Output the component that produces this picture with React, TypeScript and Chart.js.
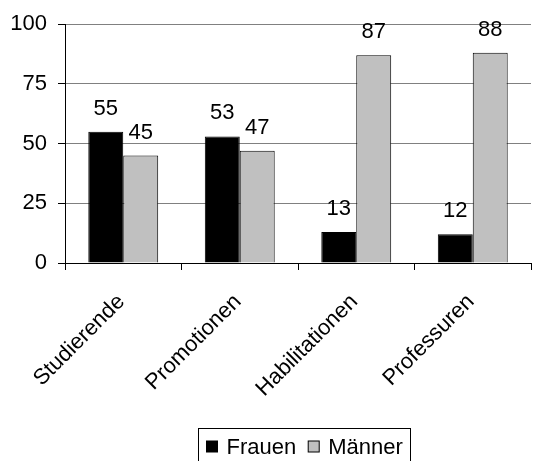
import React, { useEffect, useRef } from "react";
import { Chart, registerables } from "chart.js";

Chart.register(...registerables);

const categories = ["Studierende", "Promotionen", "Habilitationen", "Professuren"];
const frauen = [55, 53, 13, 12];
const maenner = [45, 47, 87, 88];
const seriesNames = ["Frauen", "Männer"];
const yTicks = [0, 25, 50, 75, 100];

const FONT = "'Liberation Sans', Arial, sans-serif";
const FS = 22;

const valueLabels = {
  id: "valueLabels",
  afterDatasetsDraw(chart: any) {
    const ctx = chart.ctx;
    ctx.save();
    ctx.font = `${FS}px ${FONT}`;
    ctx.fillStyle = "#000";
    ctx.textAlign = "center";
    ctx.textBaseline = "alphabetic";
    chart.data.datasets.forEach((ds: any, i: number) => {
      const meta = chart.getDatasetMeta(i);
      meta.data.forEach((el: any, j: number) => {
        ctx.fillText(String(ds.data[j]), el.x, el.y - 17);
      });
    });
    ctx.restore();
  },
};

const boxedLegend = {
  id: "boxedLegend",
  afterDraw(chart: any) {
    const ctx = chart.ctx;
    const area = chart.chartArea;
    ctx.save();
    ctx.font = `${FS}px ${FONT}`;
    const colors = chart.data.datasets.map((d: any) => d.backgroundColor);
    const names = chart.data.datasets.map((d: any) => d.label);
    const sq = 11;
    const padL = 8;
    const gapText = 9;
    const gapItem = 12;
    const padR = 8;
    const widths = names.map((n: string) => ctx.measureText(n).width);
    let total = padL + padR;
    widths.forEach((w: number, i: number) => {
      total += sq + gapText + w + (i < widths.length - 1 ? gapItem : 0);
    });
    const cx = (area.left + area.right) / 2 + 6;
    const left = Math.round(cx - total / 2) + 0.5;
    const top = chart.height - 33 + 0.5;
    ctx.strokeStyle = "#000";
    ctx.lineWidth = 1;
    ctx.strokeRect(left, top, Math.round(total), 40);
    let x = left + padL;
    const midY = top + 18;
    names.forEach((n: string, i: number) => {
      ctx.fillStyle = colors[i];
      ctx.fillRect(x, midY - sq / 2, sq, sq);
      ctx.strokeStyle = "#000";
      ctx.strokeRect(x, midY - sq / 2, sq, sq);
      x += sq + gapText;
      ctx.fillStyle = "#000";
      ctx.textBaseline = "middle";
      ctx.textAlign = "left";
      ctx.fillText(n, x, midY + 1);
      x += widths[i] + gapItem;
    });
    ctx.restore();
  },
};

export default function App() {
  const ref = useRef<HTMLCanvasElement | null>(null);

  useEffect(() => {
    document.body.style.margin = "0";
    const canvas = ref.current!;
    const chart = new Chart(canvas, {
      type: "bar",
      data: {
        labels: categories,
        datasets: [
          {
            label: seriesNames[0],
            data: frauen,
            backgroundColor: "#000000",
            borderColor: "#000000",
            borderWidth: 1,
          },
          {
            label: seriesNames[1],
            data: maenner,
            backgroundColor: "#c0c0c0",
            borderColor: "#000000",
            borderWidth: 1,
          },
        ],
      },
      options: {
        animation: false,
        responsive: false,
        maintainAspectRatio: false,
        datasets: { bar: { categoryPercentage: 0.6, barPercentage: 1.0 } },
        layout: { padding: { top: 23, right: 8, bottom: 34, left: 0 } },
        plugins: {
          legend: { display: false },
          tooltip: { enabled: false },
        },
        scales: {
          x: {
            offset: true,
            grid: {
              offset: true,
              drawOnChartArea: false,
              drawTicks: true,
              tickLength: 7,
              color: "#000",
            },
            border: { color: "#000", width: 1 },
            ticks: {
              color: "#000",
              font: { family: FONT, size: FS },
              maxRotation: 45,
              minRotation: 45,
              padding: 19,
              labelOffset: -2,
              autoSkip: false,
            },
            afterFit(scale: any) {
              scale.height = 164;
            },
          },
          y: {
            min: 0,
            max: 100,
            afterBuildTicks(scale: any) {
              scale.ticks = yTicks.map((v) => ({ value: v }));
            },
            grid: {
              color: "#808080",
              tickLength: 7,
              tickColor: "#000",
            },
            border: { color: "#000", width: 1 },
            ticks: {
              color: "#000",
              font: { family: FONT, size: FS },
              padding: 11,
            },
            afterFit(scale: any) {
              scale.width = 65;
            },
          },
        },
      },
      plugins: [valueLabels, boxedLegend],
    });
    return () => chart.destroy();
  }, []);

  return (
    <div style={{ width: 539, height: 461 }}>
      <canvas ref={ref} width={539} height={461} style={{ display: "block" }} />
    </div>
  );
}
